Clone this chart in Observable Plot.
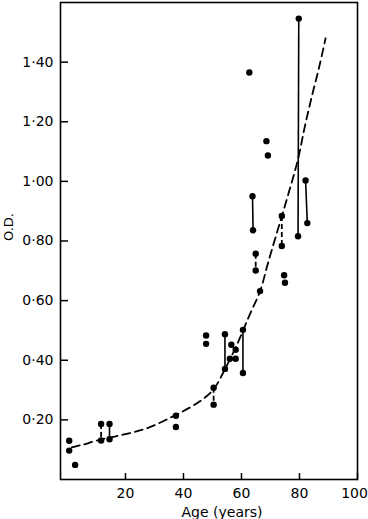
<!DOCTYPE html>
<html>
<head>
<meta charset="utf-8">
<script src="https://cdn.jsdelivr.net/npm/d3@7"></script>
<script src="https://cdn.jsdelivr.net/npm/@observablehq/plot@0.6"></script>
<style>
  html, body { margin: 0; padding: 0; background: #fff; }
  #chart { width: 368px; height: 519px; }
</style>
</head>
<body>
<div id="chart"></div>
<script>
// Individual measurements (age in years, optical density)
const dotAge = [0.6, 0.6, 2.65, 11.6, 11.6, 14.5, 14.5, 37.4, 37.4, 47.8, 47.8, 50.4, 50.4, 54.3, 54.3, 56.5, 58.0, 56.0, 58.0, 60.5, 60.5, 62.7, 63.8, 64.0, 64.9, 64.9, 66.4, 68.6, 69.1, 73.9, 73.9, 74.7, 75.0, 79.75, 79.5, 82.1, 82.7];
const dotOD  = [0.13, 0.097, 0.049, 0.186, 0.131, 0.186, 0.135, 0.214, 0.176, 0.483, 0.455, 0.308, 0.251, 0.487, 0.371, 0.452, 0.435, 0.405, 0.405, 0.502, 0.357, 1.365, 0.950, 0.836, 0.757, 0.701, 0.632, 1.135, 1.087, 0.884, 0.783, 0.685, 0.660, 1.546, 0.816, 1.003, 0.860];

// Paired measurements joined by a line
const pairAgeA = [11.6, 14.5, 50.4, 54.3, 56.5, 60.5, 63.8, 64.9, 73.9, 79.75, 82.1];
const pairODA  = [0.186, 0.186, 0.308, 0.487, 0.452, 0.502, 0.950, 0.757, 0.884, 1.546, 1.003];
const pairAgeB = [11.6, 14.5, 50.4, 54.3, 58.0, 60.5, 64.0, 64.9, 73.9, 79.5, 82.7];
const pairODB  = [0.131, 0.135, 0.251, 0.371, 0.435, 0.357, 0.836, 0.701, 0.783, 0.816, 0.860];
const pairDashed = [true, false, true, false, false, false, false, true, true, false, false];

// Fitted (dashed) curve
const curveAge = [1.5, 5, 11, 20, 28, 36, 42.5, 46.5, 50.4, 54.3, 58.8, 62.7, 66.4, 69.4, 72.8, 76.2, 79.5, 81.8, 84.2, 86.8, 89];
const curveOD  = [0.108, 0.116, 0.133, 0.152, 0.174, 0.210, 0.243, 0.268, 0.303, 0.37, 0.46, 0.55, 0.632, 0.735, 0.847, 0.959, 1.075, 1.182, 1.283, 1.384, 1.48];

const xTicks = [20, 40, 60, 80, 100];
const yTicks = [0.2, 0.4, 0.6, 0.8, 1.0, 1.2, 1.4];
const xLabel = "Age (years)";
const yLabel = "O.D.";

const dots = dotAge.map((a, i) => ({age: a, od: dotOD[i]}));
const pairs = pairAgeA.map((a, i) => ({a1: a, o1: pairODA[i], a2: pairAgeB[i], o2: pairODB[i], dashed: pairDashed[i]}));
const curve = curveAge.map((a, i) => ({age: a, od: curveOD[i]}));

const fmtY = d => d3.format(".2f")(d).replace(".", "·");
const lastX = xTicks[xTicks.length - 1];

const chart = Plot.plot({
  width: 368,
  height: 519,
  marginLeft: 60,
  marginRight: 11,
  marginTop: 2,
  marginBottom: 40,
  style: {fontFamily: "DejaVu Sans", fontSize: "14px", color: "#000", background: "#fff"},
  x: {domain: [-2.4, 100]},
  y: {domain: [0, 1.6]},
  marks: [
    Plot.frame({stroke: "#000", strokeWidth: 1.6}),
    // inward tick marks
    Plot.axisY(yTicks, {tickSize: 8, dx: 8, tickFormat: () => "", strokeWidth: 1.5, label: null}),
    Plot.axisX(xTicks, {tickSize: 6, dy: -6, tickFormat: () => "", strokeWidth: 1.5, label: null}),
    // tick labels
    Plot.axisY(yTicks, {tickSize: 0, tickPadding: 7, tickFormat: fmtY, label: null, fontSize: 14}),
    Plot.axisX(xTicks.filter(d => d !== lastX), {tickSize: 0, tickPadding: 9, tickFormat: d => String(d), label: null, fontSize: 14}),
    Plot.axisX([lastX], {tickSize: 0, tickPadding: 9, dx: -3, tickFormat: d => String(d), label: null, fontSize: 14}),
    Plot.text([xLabel], {frameAnchor: "bottom", dx: 13, dy: 28, lineAnchor: "top", fontSize: 14}),
    Plot.text([yLabel], {frameAnchor: "left", rotate: -90, dx: -52, fontSize: 13}),
    // fitted curve
    Plot.line(curve, {x: "age", y: "od", curve: "catmull-rom", stroke: "#000", strokeWidth: 1.8, strokeDasharray: "8,5"}),
    // pair connectors
    Plot.link(pairs.filter(d => !d.dashed), {x1: "a1", y1: "o1", x2: "a2", y2: "o2", stroke: "#000", strokeWidth: 1.6}),
    Plot.link(pairs.filter(d => d.dashed), {x1: "a1", y1: "o1", x2: "a2", y2: "o2", stroke: "#000", strokeWidth: 1.8, strokeDasharray: "5,3"}),
    // measurements
    Plot.dot(dots, {x: "age", y: "od", r: 3.2, fill: "#000", stroke: "none"})
  ]
});
document.getElementById("chart").appendChild(chart);
</script>
</body>
</html>
